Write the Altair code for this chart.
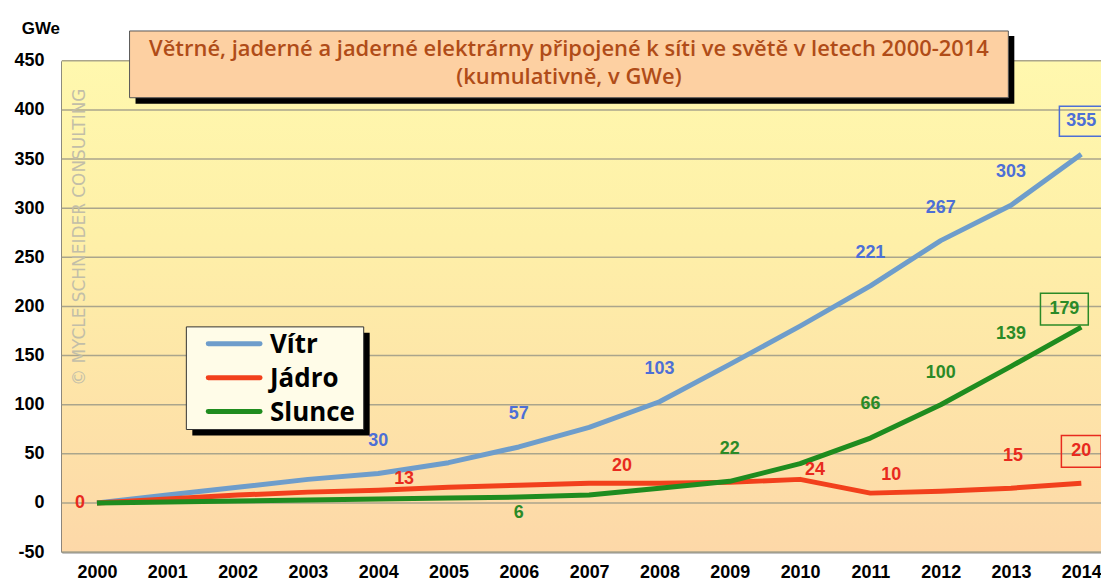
import altair as alt
import pandas as pd

# ---------------- data ----------------
years = list(range(2000, 2015))
vitr = [0, 8, 16, 24, 30, 41, 57, 77, 103, 141, 180, 221, 267, 303, 355]
jadro = [0, 4, 8, 11, 13, 16, 18, 20, 20, 21, 24, 10, 12, 15, 20]
slunce = [0, 1, 2, 3, 4, 5, 6, 8, 15, 22, 40, 66, 100, 139, 179]
series_names = ["Vítr", "Jádro", "Slunce"]
y_ticks = list(range(-50, 451, 50))
title_lines = [
    "Větrné, jaderné a jaderné elektrárny připojené k síti ve světě v letech 2000-2014",
    "(kumulativně, v GWe)",
]
unit_label = "GWe"
watermark = "© MYCLE SCHNEIDER CONSULTING"

# labelled points per series
labels_vitr = [2004, 2006, 2008, 2011, 2012, 2013, 2014]
labels_jadro = [2000, 2004, 2007, 2010, 2011, 2013, 2014]
labels_slunce = [2006, 2009, 2011, 2012, 2013, 2014]

# ---------------- styling ----------------
W, H = 1043, 493
line_colors = ["#6e9dcb", "#f2401c", "#1f8c1f"]
label_colors = ["#4d6fd6", "#e82a1e", "#2b8a27"]
NUM_FONT = "Liberation Sans"

df = pd.DataFrame({
    "year": years * 3,
    "value": vitr + jadro + slunce,
    "series": [s for s in series_names for _ in years],
})
one = pd.DataFrame({"k": [0]})

xscale = alt.Scale(domain=[1999.5, 2014.28], nice=False, zero=False)
yscale = alt.Scale(domain=[-50, 450], nice=False, zero=False)

x_axis = alt.Axis(values=years, format="d", labelFontSize=18, labelFont=NUM_FONT,
                  labelFontWeight="bold", labelColor="black", ticks=False, grid=False,
                  domainColor="#8a8a8a", domainWidth=2, labelPadding=12, title=None,
                  labelFlush=False, labelOverlap=False)
y_axis = alt.Axis(values=y_ticks, labelExpr="datum.value + ''", labelFontSize=18, labelFont=NUM_FONT,
                  labelFontWeight="bold", labelColor="black", ticks=False, grid=False,
                  domainColor="#333333", domainWidth=2, labelPadding=18, title=None,
                  labelFlush=False, labelOverlap=False)

X = alt.X("year:Q", scale=xscale, axis=x_axis)
Y = alt.Y("value:Q", scale=yscale, axis=y_axis)

# background gradient
bg = alt.Chart(one).mark_rect(
    fill=alt.Gradient(gradient="linear",
                      stops=[alt.GradientStop(color="#fff8ae", offset=0),
                             alt.GradientStop(color="#fef0a8", offset=0.35),
                             alt.GradientStop(color="#fdd8a8", offset=1)],
                      x1=0, x2=0, y1=0, y2=1)
).encode(x=alt.value(0), x2=alt.value(W), y=alt.value(0), y2=alt.value(H))

grid = alt.Chart(pd.DataFrame({"value": y_ticks})).mark_rule(
    color="#aaa58c", strokeWidth=1.5
).encode(y=Y)

wm = alt.Chart(one).mark_text(
    angle=270, fontSize=17, font="DejaVu Sans", color="#c2bea8", align="center", baseline="middle"
).encode(x=alt.value(18), y=alt.value(177), text=alt.value(watermark))

lines = alt.Chart(df).mark_line(strokeWidth=5, interpolate="linear", strokeJoin="round").encode(
    x=X,
    y=Y,
    color=alt.Color("series:N", scale=alt.Scale(domain=series_names, range=line_colors), legend=None),
    order=alt.Order("year:Q"),
)

layers = [bg, grid, wm, lines]

# value label offsets (dx, dy) in pixels
label_offsets = {
    ("Vítr", 2004): (0, -33), ("Vítr", 2006): (0, -33), ("Vítr", 2008): (0, -33),
    ("Vítr", 2011): (0, -33), ("Vítr", 2012): (0, -33), ("Vítr", 2013): (0, -33),
    ("Vítr", 2014): (0, -33),
    ("Jádro", 2000): (-17, 0), ("Jádro", 2004): (26, -11), ("Jádro", 2007): (33, -17),
    ("Jádro", 2010): (15, -9), ("Jádro", 2011): (21, -18), ("Jádro", 2013): (2, -32),
    ("Jádro", 2014): (0, -32),
    ("Slunce", 2006): (0, 16), ("Slunce", 2009): (0, -32), ("Slunce", 2011): (0, -34),
    ("Slunce", 2012): (0, -32), ("Slunce", 2013): (0, -32), ("Slunce", 2014): (-17, -18),
}
label_years = {"Vítr": labels_vitr, "Jádro": labels_jadro, "Slunce": labels_slunce}
for si, s in enumerate(series_names):
    for yr in label_years[s]:
        dx, dy = label_offsets[(s, yr)]
        sub = df[(df.series == s) & (df.year == yr)]
        layers.append(
            alt.Chart(sub).mark_text(
                dx=dx, dy=dy, fontSize=18, font=NUM_FONT, fontWeight="bold",
                color=label_colors[si], align="center", baseline="middle"
            ).encode(x=X, y=Y, text=alt.Text("value:Q"))
        )


def box_path(cx, cy, w, h, r=20.0):
    x0, x1 = (cx - w / 2) / r, (cx + w / 2) / r
    y0, y1 = (cy - h / 2) / r, (cy + h / 2) / r
    return f"M{x0:.3f},{y0:.3f}L{x1:.3f},{y0:.3f}L{x1:.3f},{y1:.3f}L{x0:.3f},{y1:.3f}Z"


boxes = [("Vítr", 0, -33, 44, 30, 0), ("Slunce", -17, -18, 48, 32, 2), ("Jádro", 0, -32, 40, 32, 1)]
for s, cx, cy, w, h, ci in boxes:
    sub = df[(df.series == s) & (df.year == 2014)]
    layers.append(
        alt.Chart(sub).mark_point(
            shape=box_path(cx, cy, w, h), size=1600, filled=False, opacity=1,
            color=label_colors[ci], strokeWidth=1.5
        ).encode(x=X, y=Y)
    )

# title box
title_style = dict(fontSize=22, font="Open Sans", fontWeight=600, color="#b04c18",
                   align="center", baseline="middle")
layers += [
    alt.Chart(one).mark_rect(fill="black").encode(
        x=alt.value(74), x2=alt.value(956), y=alt.value(-25), y2=alt.value(43)),
    alt.Chart(one).mark_rect(fill="#fdd0a2", stroke="#555555", strokeWidth=1).encode(
        x=alt.value(68), x2=alt.value(950), y=alt.value(-30), y2=alt.value(37)),
    alt.Chart(one).mark_text(**title_style).encode(
        x=alt.value(509), y=alt.value(-12), text=alt.value(title_lines[0])),
    alt.Chart(one).mark_text(**title_style).encode(
        x=alt.value(509), y=alt.value(16), text=alt.value(title_lines[1])),
    alt.Chart(one).mark_text(fontSize=17, font=NUM_FONT, fontWeight="bold", color="black",
                             align="center", baseline="middle").encode(
        x=alt.value(-21), y=alt.value(-32), text=alt.value(unit_label)),
]

# legend box
layers += [
    alt.Chart(one).mark_rect(fill="black").encode(
        x=alt.value(131), x2=alt.value(309), y=alt.value(273), y2=alt.value(376)),
    alt.Chart(one).mark_rect(fill="#fffce8", stroke="#333333", strokeWidth=1).encode(
        x=alt.value(125), x2=alt.value(303), y=alt.value(267), y2=alt.value(370)),
]
legend_rows = [284, 318, 352]
for i, s in enumerate(series_names):
    layers.append(alt.Chart(one).mark_rule(color=line_colors[i], strokeWidth=5, strokeCap="round").encode(
        x=alt.value(147), x2=alt.value(199), y=alt.value(legend_rows[i])))
    layers.append(alt.Chart(one).mark_text(fontSize=26, font="Open Sans", fontWeight="bold",
                                           color="black", align="left", baseline="middle").encode(
        x=alt.value(209), y=alt.value(legend_rows[i] + 1), text=alt.value(s)))

chart = alt.layer(*layers).properties(
    width=W, height=H,
    padding={"left": 54, "top": 52, "right": 0, "bottom": 31},
    autosize=alt.AutoSizeParams(type="none"),
    background="white",
).configure_view(stroke=None)

chart.save("out.html", embed_options={"renderer": "svg", "actions": False})
